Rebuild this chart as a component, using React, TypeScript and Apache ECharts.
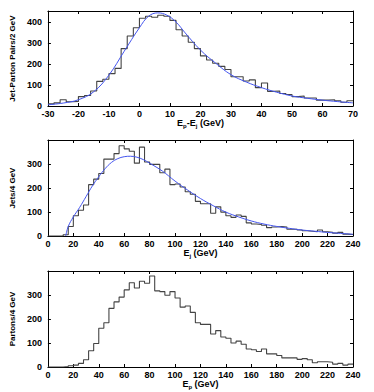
import React, { useEffect, useRef } from "react";
import * as echarts from "echarts";

// Panel 1: E_p - E_j, 2 GeV bins from -30
const diffStart = -30;
const diffBin = 2;
const diffCounts = [10, 15, 30, 20, 22, 45, 50, 72, 118, 128, 155, 180, 275, 335, 375, 420, 430, 425, 435, 430, 410, 365, 335, 305, 275, 240, 220, 205, 190, 175, 140, 140, 120, 125, 88, 110, 70, 72, 60, 55, 45, 48, 38, 38, 28, 28, 30, 25, 18, 25];
const diffFitX = [-30, -25, -20, -15, -10, -5, 0, 3, 6, 9, 12, 15, 20, 25, 30, 35, 40, 45, 50, 55, 60, 65, 70];
const diffFitY = [6, 14, 30, 68, 148, 262, 375, 430, 446, 435, 402, 350, 268, 205, 150, 115, 88, 66, 48, 37, 28, 21, 15];

// Panel 2: E_j, 4 GeV bins from 0
const jetStart = 0;
const jetBin = 4;
const jetCounts = [0, 0, 0, 5, 40, 85, 108, 130, 215, 238, 262, 322, 322, 345, 378, 365, 355, 305, 372, 310, 300, 300, 265, 280, 215, 218, 205, 185, 175, 145, 135, 135, 95, 122, 100, 85, 78, 88, 82, 55, 50, 48, 45, 35, 38, 40, 38, 28, 28, 25, 22, 20, 18, 25, 18, 16, 12, 15, 8, 6];
const jetFitX = [14, 16, 20, 25, 30, 35, 40, 45, 50, 55, 60, 65, 70, 75, 80, 90, 100, 110, 120, 130, 140, 150, 160, 170, 180, 190, 200, 210, 220, 230, 240];
const jetFitY = [0, 40, 80, 120, 165, 210, 248, 282, 308, 324, 332, 334, 330, 320, 305, 272, 230, 192, 157, 127, 100, 80, 63, 50, 40, 32, 25, 20, 15, 11, 7];

// Panel 3: E_p, 4 GeV bins from 0
const partonStart = 0;
const partonBin = 4;
const partonCounts = [0, 0, 0, 2, 5, 8, 15, 30, 68, 98, 162, 185, 245, 272, 292, 322, 352, 330, 358, 350, 380, 318, 315, 300, 315, 288, 250, 255, 228, 185, 178, 178, 138, 152, 125, 120, 100, 108, 95, 75, 72, 65, 75, 55, 55, 48, 38, 38, 38, 32, 35, 30, 18, 22, 22, 20, 12, 15, 8, 12];

// Highest labelled y tick per panel
const yLabelTop = [400, 300, 300];

const FONT = "Liberation Sans";

function stepData(start: number, bin: number, counts: number[]) {
  const d: number[][] = counts.map((c, i) => [start + i * bin, c]);
  d.push([start + counts.length * bin, counts[counts.length - 1]]);
  return d;
}

function pairs(xs: number[], ys: number[]) {
  return xs.map((x, i) => [x, ys[i]]);
}

export default function App() {
  const ref = useRef<HTMLDivElement>(null);
  useEffect(() => {
    if (!ref.current) return;
    const chart = echarts.init(ref.current, undefined, { renderer: "svg" });

    const grids = [
      { left: 40, right: 21, top: 11, height: 95 },
      { left: 40, right: 21, top: 140, height: 96 },
      { left: 40, right: 21, top: 271, height: 96 },
    ];
    const xr = [
      { min: -30, max: 70, interval: 10 },
      { min: 0, max: 240, interval: 20 },
      { min: 0, max: 240, interval: 20 },
    ];
    const yr = [
      { min: 0, max: 455, interval: 100 },
      { min: 0, max: 402, interval: 100 },
      { min: 0, max: 401, interval: 100 },
    ];
    const xNames = [
      "{b|E}{s|p}{b|-E}{s|j}{b| (GeV)}",
      "{b|E}{s|j}{b| (GeV)}",
      "{b|E}{s|p}{b| (GeV)}",
    ];
    const yNames = ["Jet-Parton Pairs/2 GeV", "Jets/4 GeV", "Partons/4 GeV"];

    const lineStyle = { color: "#000", width: 1 };
    const tick = { show: true, inside: true, length: 3, lineStyle: { color: "#000", width: 1 } };
    const labelStyle = { fontFamily: FONT, fontWeight: "bold" as const, fontSize: 9, color: "#000" };

    const xAxis: any[] = [];
    const yAxis: any[] = [];
    for (let i = 0; i < 3; i++) {
      const top = yLabelTop[i];
      xAxis.push({
        type: "value",
        gridIndex: i,
        position: "bottom",
        ...xr[i],
        axisLine: { show: true, onZero: false, lineStyle },
        axisTick: tick,
        splitLine: { show: false },
        axisLabel: { ...labelStyle, margin: 3 },
        name: xNames[i],
        nameLocation: "middle",
        nameGap: 10,
        nameTextStyle: {
          rich: {
            b: { fontFamily: FONT, fontWeight: "bold", fontSize: 9, color: "#000", lineHeight: 11 },
            s: { fontFamily: FONT, fontWeight: "bold", fontSize: 6, color: "#000", lineHeight: 4, verticalAlign: "bottom" },
          },
        },
      });
      xAxis.push({
        type: "value",
        gridIndex: i,
        position: "top",
        ...xr[i],
        axisLine: { show: true, onZero: false, lineStyle },
        axisTick: tick,
        splitLine: { show: false },
        axisLabel: { show: false },
      });
      yAxis.push({
        type: "value",
        gridIndex: i,
        position: "left",
        ...yr[i],
        axisLine: { show: true, onZero: false, lineStyle },
        axisTick: tick,
        splitLine: { show: false },
        axisLabel: {
          ...labelStyle,
          margin: 6,
          formatter: (v: number) => (v <= top && v % 100 === 0 ? String(v) : ""),
        },
        name: yNames[i],
        nameLocation: "middle",
        nameGap: 24,
        nameTextStyle: { fontFamily: FONT, fontWeight: "bold", fontSize: 8, color: "#000" },
      });
      yAxis.push({
        type: "value",
        gridIndex: i,
        position: "right",
        ...yr[i],
        axisLine: { show: true, onZero: false, lineStyle },
        axisTick: tick,
        splitLine: { show: false },
        axisLabel: { show: false },
      });
    }

    const hist = (idx: number, data: number[][]) => ({
      type: "line",
      xAxisIndex: idx * 2,
      yAxisIndex: idx * 2,
      step: "end",
      data,
      symbol: "none",
      lineStyle: { color: "#444", width: 1.1 },
      itemStyle: { color: "#444" },
      z: 2,
    });
    const fit = (idx: number, data: number[][]) => ({
      type: "line",
      xAxisIndex: idx * 2,
      yAxisIndex: idx * 2,
      smooth: 0.4,
      data,
      symbol: "none",
      lineStyle: { color: "#4455ee", width: 1 },
      itemStyle: { color: "#4455ee" },
      z: 3,
    });

    chart.setOption({
      animation: false,
      backgroundColor: "#fff",
      grid: grids,
      xAxis,
      yAxis,
      series: [
        hist(0, stepData(diffStart, diffBin, diffCounts)),
        fit(0, pairs(diffFitX, diffFitY)),
        hist(1, stepData(jetStart, jetBin, jetCounts)),
        fit(1, pairs(jetFitX, jetFitY)),
        hist(2, stepData(partonStart, partonBin, partonCounts)),
      ],
    });
    return () => chart.dispose();
  }, []);
  return (
    <div
      ref={ref}
      style={{ position: "absolute", left: 0, top: 0, width: 374, height: 392 }}
    />
  );
}
